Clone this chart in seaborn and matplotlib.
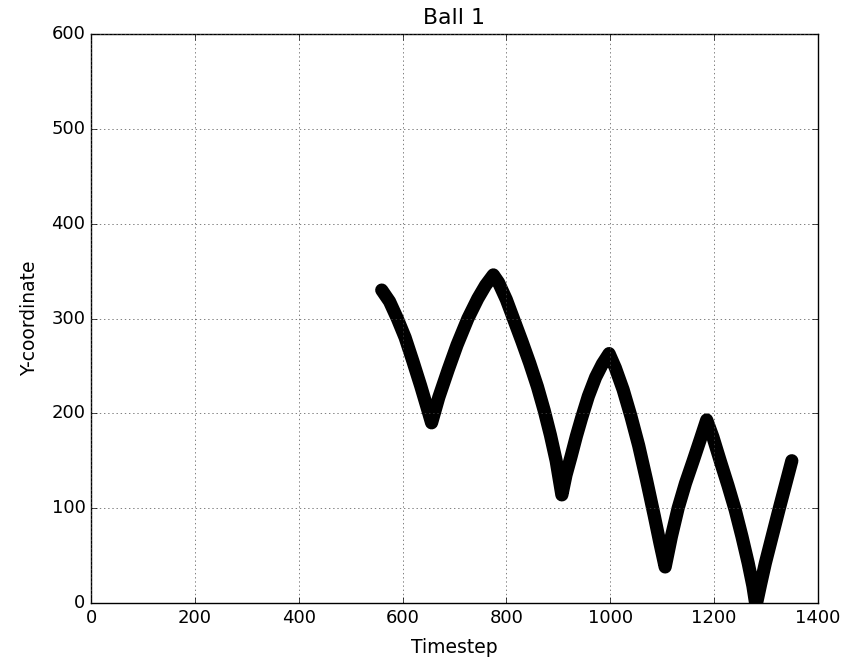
import pandas as pd
import seaborn as sns
import matplotlib
matplotlib.use("Agg")
import matplotlib.pyplot as plt

# values (ball trajectory, several bounces)
timestep = [560, 575, 590, 605, 620, 635, 648, 656,
            670, 688, 705, 726, 745, 760, 775,
            785, 800, 815, 830, 845, 860, 873, 885, 896, 907,
            915, 925, 935, 945, 958, 972, 985, 998,
            1010, 1025, 1040, 1055, 1070, 1085, 1096, 1106,
            1118, 1131, 1145, 1160, 1174, 1186,
            1198, 1212, 1227, 1241, 1254, 1266, 1275, 1281,
            1290, 1299, 1312, 1326, 1338, 1350]
y_coord = [330, 318, 300, 280, 255, 229, 205, 190,
           217, 246, 272, 300, 321, 335, 346,
           338, 320, 298, 276, 253, 228, 203, 177, 150, 114,
           135, 155, 176, 195, 218, 238, 252, 263,
           248, 225, 197, 166, 130, 92, 63, 38,
           70, 100, 126, 150, 173, 193,
           175, 150, 124, 98, 70, 42, 18, -3,
           20, 42, 70, 100, 125, 150]

x_ticks = [0, 200, 400, 600, 800, 1000, 1200, 1400]
y_ticks = [0, 100, 200, 300, 400, 500, 600]

plt.style.use("classic")
plt.rcParams["font.family"] = "DejaVu Sans"

data = pd.DataFrame({"Timestep": timestep, "Y-coordinate": y_coord})

fig = plt.figure(figsize=(8.59, 6.6), dpi=100, facecolor="white")
ax = fig.add_axes([0.106, 0.0864, 0.846, 0.862])
ax.set_facecolor("white")

sns.lineplot(data=data, x="Timestep", y="Y-coordinate", sort=False, ax=ax,
             color="black", linewidth=9.5, solid_capstyle="round",
             solid_joinstyle="round")

ax.set_xlim(0, 1400)
ax.set_ylim(0, 600)
ax.set_xticks(x_ticks)
ax.set_yticks(y_ticks)
ax.grid(True, linestyle=(0, (1, 2)), color="0.3", linewidth=0.5)
ax.set_title("Ball 1", fontsize=15.8, pad=7)
ax.set_xlabel("Timestep", fontsize=13.5, labelpad=8)
ax.set_ylabel("Y-coordinate", fontsize=13.5, labelpad=9)
ax.tick_params(labelsize=13)

fig.savefig("out.png", dpi=100, facecolor="white")
